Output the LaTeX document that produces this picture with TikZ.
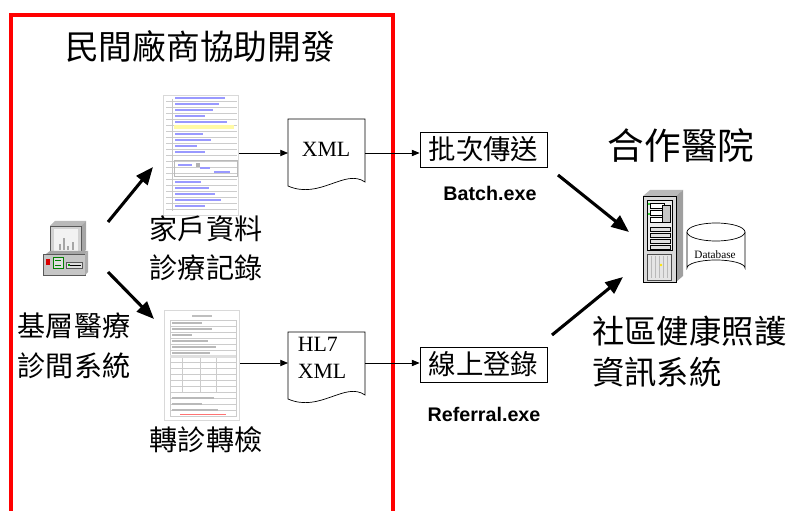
\documentclass[tikz,border=0pt]{standalone}
\usepackage{fontspec}
\setmainfont{Liberation Serif}
\newfontfamily\cjk{Noto Sans CJK TC}
\newfontfamily\arial{Liberation Sans}
\usetikzlibrary{calc}
\usetikzlibrary{arrows.meta}

\tikzset{
  bigarrow/.style={-{Triangle[length=12.5pt,width=10pt]}, line width=2.2pt},
  thinarrow/.style={-{Triangle[length=5.5pt,width=4.5pt]}, line width=0.5pt},
  cjktext/.style={font=\cjk\fontsize{20}{24}\selectfont, inner sep=0pt},
  exename/.style={font=\arial\bfseries\fontsize{14}{16}\selectfont, inner sep=0pt},
  stepbox/.style={draw, line width=0.6pt, font=\cjk\fontsize{19.5}{22}\selectfont,
    minimum width=127*0.025cm, minimum height=35*0.025cm, inner sep=0pt},
  form/.style={draw=gray!30, fill=white, line width=0.4pt, inner sep=0pt},
  docshape/.style={draw, fill=white, line width=0.5pt},
}

\begin{document}
\begin{tikzpicture}[x=0.025cm, y=-0.025cm]
\useasboundingbox (0,0) rectangle (789,511);

% vendor area
\draw[red, line width=2.2pt] (11,520) -- (11,15) -- (393,15) -- (393,520);
\node[cjktext, font=\cjk\fontsize{24}{28}\selectfont] (vendor) at (200,46) {民間廠商協助開發};

% clinic pc
\node[inner sep=0pt, minimum width=42*0.025cm, minimum height=55*0.025cm] (pc) at (64,248) {};
\fill[gray!55] (50,226) -- (55,221) -- (86,221) -- (81,226) -- cycle;
\fill[gray!70] (81,226) -- (86,221) -- (86,250) -- (81,254) -- cycle;
\draw[gray!70!black, fill=gray!35, line width=0.4pt] (50,226) rectangle (81,254);
\fill[gray!10] (54,229) rectangle (78,251);
\foreach \x/\h in {60/6,64/12,68/4,73/8}
  \draw[gray!70, line width=0.8pt] (\x,250) -- ++(0,-\h);
\fill[gray!70] (46,254) -- (50,251) -- (88,251) -- (85,254) -- cycle;
\draw[gray!70!black, fill=gray!45, line width=0.4pt] (43,254) rectangle (85,275);
\fill[gray!65] (85,254) -- (88,251) -- (88,272) -- (85,275) -- cycle;
\fill[red!85!black] (46,259) rectangle (50,265);
\draw[green!50!black, fill=gray!25, line width=0.4pt] (53,257) rectangle (63,268);
\draw[green!50!black, line width=0.5pt] (55,260) -- (61,260) (55,265) -- (61,265);
\draw[gray!70!black, fill=gray!25, line width=0.4pt] (66,262) rectangle (82,268);
\fill[green!60!black] (68,264) rectangle (70,266);
\draw[black, line width=0.6pt] (70,265) -- (81,265);
\node[cjktext, align=center] (clinic) at (74,346) {基層醫療\\[4pt]診間系統};

% household record form
\node[form, minimum width=75*0.025cm, minimum height=120*0.025cm] (form1) at (201,155) {};
\foreach \y in {101,107,...,209}
  \draw[gray!40, line width=0.2pt] (166,\y) -- (237,\y);
\draw[gray!45, line width=0.3pt] (172,99) -- (172,211);
\fill[yellow!35] (174,125) rectangle (234,129);
\foreach \y/\w in {98/50,104/44,110/38,116/30,122/52,134/28,140/36,146/22,152/30,182/26,188/34,194/40,200/46,206/30}
  \draw[blue!40, line width=0.9pt] (175,\y) -- ++(\w,0);
\draw[gray!55, line width=0.3pt] (174,160) rectangle (237,176);
\draw[blue!40, line width=0.9pt] (178,165) -- ++(14,0) (200,168) -- ++(10,0) (214,172) -- ++(16,0);
\fill[gray!60] (196,163) rectangle (200,167);
\node[cjktext, align=center] (record) at (206,248) {家戶資料\\[4pt]診療記錄};

% referral form
\node[form, minimum width=75*0.025cm, minimum height=110*0.025cm] (form2) at (202,365) {};
\draw[gray!50, line width=0.8pt] (192,316) -- (212,316);
\draw[gray!40, line width=0.3pt] (170,320) rectangle (236,416);
\foreach \y in {326,332,...,410}
  \draw[gray!40, line width=0.2pt] (170,\y) -- (236,\y);
\foreach \x in {182,200,216}
  \draw[gray!40, line width=0.3pt] (\x,356) -- (\x,392);
\fill[gray!25] (170,355) rectangle (236,358);
\foreach \y/\w in {323/30,329/40,335/20,341/36,347/44,353/38,398/42,404/30,410/46}
  \draw[gray!55, line width=0.8pt] (172,\y) -- ++(\w,0);
\draw[red!55, line width=0.6pt] (180,414) -- (226,414);
\node[cjktext] (transfer) at (206,440) {轉診轉檢};

% pc to forms
\coordinate (pcA) at (108,222);
\coordinate (pcB) at (108,272);
\draw[bigarrow] (pcA) -- (153,167);
\draw[bigarrow] (pcB) -- (154,319);

% exported files
\draw[docshape] (288,119) -- (365,119) -- (365,182)
  .. controls (345,168) and (320,200) .. (288,186) -- cycle;
\node[font=\fontsize{15.5}{18}\selectfont, inner sep=0pt] (xml) at (326,149) {XML};
\draw[docshape] (288,332) -- (365,332) -- (365,395)
  .. controls (345,381) and (320,413) .. (288,399) -- cycle;
\node[font=\fontsize{15.5}{19}\selectfont, inner sep=0pt, align=left] (hlxml) at (322,358) {HL7\\XML};
\coordinate (xmlL) at (288,153);
\coordinate (xmlR) at (365,153);
\coordinate (hlL) at (288,363);
\coordinate (hlR) at (365,363);

% upload steps
\node[stepbox] (batch) at (483.5,149.5) {批次傳送};
\node[exename] (batchexe) at (490,193) {Batch.exe};
\node[stepbox] (online) at (483.5,364.5) {線上登錄};
\node[exename] (referral) at (484,414) {Referral.exe};

\draw[thinarrow] (form1.east |- xmlL) -- (xmlL);
\draw[thinarrow] (xmlR) -- (batch.west |- xmlR);
\draw[thinarrow] (form2.east |- hlL) -- (hlL);
\draw[thinarrow] (hlR) -- (online.west |- hlR);

% hospital
\node[cjktext, font=\cjk\fontsize{26}{30}\selectfont] (hospital) at (681,145) {合作醫院};
\node[inner sep=0pt, minimum width=40*0.025cm, minimum height=92*0.025cm] (server) at (663,236) {};
\fill[gray!55] (643,196) -- (650,190) -- (683,190) -- (676,196) -- cycle;
\fill[gray!75] (676,196) -- (683,190) -- (683,276) -- (676,282) -- cycle;
\draw[black, fill=gray!30, line width=0.5pt] (643,196) rectangle (676,282);
\draw[black, fill=gray!15, line width=0.4pt] (647,200) rectangle (672,250);
\foreach \y in {203,210,217}
  \draw[black, fill=white, line width=0.3pt] (650,\y) rectangle (664,\y+5);
\draw[black, fill=gray!45, line width=0.3pt] (662,205) rectangle (670,222);
\foreach \y in {227,233,239,245}
  \draw[black, fill=gray!25, line width=0.3pt] (650,\y) rectangle (670,\y+4);
\fill[green!80!black] (649,204) circle (1.2) (649,214) circle (1.2);
\draw[gray!60!black, fill=gray!20, line width=0.4pt] (647,254) rectangle (671,280);
\foreach \x in {651,655,...,669}
  \draw[gray!55, line width=0.3pt] (\x,256) -- (\x,278);
\fill[yellow!90!orange] (661,265) circle (1.3);

% database drum
\draw[fill=white, line width=0.5pt] (687,232) -- (687,268) arc[start angle=180, end angle=360, x radius=29, y radius=8]
  -- (745,232);
\draw[fill=white, line width=0.5pt] (716,232) ellipse[x radius=29, y radius=9];
\node[inner sep=0pt, font=\fontsize{8}{9}\selectfont] (db) at (715,255) {Database};

\node[cjktext, font=\cjk\fontsize{23}{27}\selectfont, align=left, anchor=west] (community) at (592,352) {社區健康照護\\[2pt]資訊系統};

% uploads to hospital
\coordinate (upA) at (558,175);
\coordinate (upB) at (552,335);
\draw[bigarrow] (upA) -- (629,232);
\draw[bigarrow] (upB) -- (623,277);
\end{tikzpicture}
\end{document}
